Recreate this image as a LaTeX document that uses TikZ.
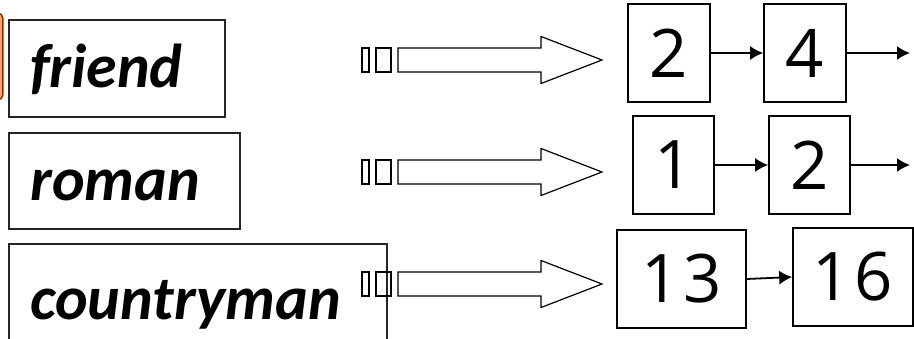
\documentclass[tikz,border=0pt]{standalone}
\usepackage{fontspec}
\setmainfont{Carlito}
\newfontfamily\digitfont{Open Sans}
\usetikzlibrary{arrows.meta,positioning}

\definecolor{selfill}{RGB}{244,164,110}
\definecolor{seldraw}{RGB}{110,55,25}

\begin{document}
\begin{tikzpicture}[x=1pt,y=-1pt,
        wordbox/.style={draw=black!85,line width=1.4pt,minimum height=97pt,inner sep=0pt},
        word/.style={font=\fontsize{62}{62}\selectfont\bfseries\itshape,inner sep=0pt,anchor=base west},
        postbox/.style={draw,line width=1.6pt,minimum height=98pt,minimum width=82pt,inner sep=0pt,
            font=\digitfont\fontsize{67}{67}\selectfont},
        ptr/.style={line width=1.8pt,-{Latex[length=13pt,width=14pt]}},
        bigarrow/.style={draw,line width=1.2pt,fill=white},
        stub/.style={draw,line width=1.2pt,minimum height=24pt,inner sep=0pt}]
        \useasboundingbox (0,0) rectangle (914,339);
        \clip (0,0) rectangle (914,339);

        % dictionary
        \node[draw=seldraw,fill=selfill,line width=1.4pt,rounded corners=5pt,
            minimum width=30pt,minimum height=87pt,anchor=east] (sel) at (3.5,56.5) {};
        \node[wordbox,minimum width=216pt] (friend) at (117,68.5) {};
        \node[word] (friendtxt) at (30,88) {friend};
        \node[wordbox,minimum width=231pt,minimum height=96pt] (roman) at (124.5,181) {};
        \node[word] (romantxt) at (30,201) {roman};
        \node[wordbox,minimum width=378pt,minimum height=130pt] (country) at (198,309) {};
        \node[word] (countrytxt) at (30,320) {countryman};

        % hollow arrows
        \foreach \row/\yc in {1/60,2/172,3/284}{
            \node[stub,minimum width=7pt] (stubA\row) at (365.5,\yc) {};
            \node[stub,minimum width=15pt] (stubB\row) at (383.5,\yc) {};
            \coordinate (tail\row) at (398,\yc);
            \draw[bigarrow] (tail\row) -- ++(0,-12) -- ++(143,0) -- ++(0,-11.5)
                -- ++(61,23.5) -- ++(-61,23.5) -- ++(0,-11.5) -- ++(-143,0) -- cycle;
        }

        % postings
        \node[postbox] (p12) at (669,53) {2};
        \node[postbox] (p14) at (805,53) {4};
        \coordinate (end1) at (910,53);
        \node[postbox,minimum width=81pt] (p21) at (673.5,165) {1};
        \node[postbox,minimum width=81pt] (p22) at (809.5,165) {2};
        \coordinate (end2) at (910,165);
        \node[postbox,minimum width=129pt] (p313) at (681.5,279) {1\kern4pt 3};
        \node[postbox,minimum width=120pt] (p316) at (853,277) {1\kern4pt 6};

        \draw[ptr] (p12.east) -- (p14.west);
        \draw[ptr] (p14.east) -- (end1);
        \draw[ptr] (p21.east) -- (p22.west);
        \draw[ptr] (p22.east) -- (end2);
        \draw[ptr] (p313.east) -- (p316.west);
\end{tikzpicture}
\end{document}
